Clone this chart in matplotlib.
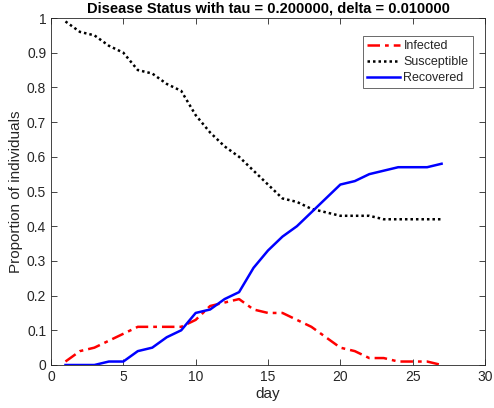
import matplotlib
matplotlib.use("Agg")
import matplotlib.pyplot as plt

days = list(range(1, 28))
infected = [0.01, 0.04, 0.05, 0.07, 0.09, 0.11, 0.11, 0.11, 0.11, 0.13, 0.17, 0.18, 0.19, 0.16,
            0.15, 0.15, 0.13, 0.11, 0.08, 0.05, 0.04, 0.02, 0.02, 0.01, 0.01, 0.01, 0.00]
susceptible = [0.99, 0.96, 0.95, 0.92, 0.90, 0.85, 0.84, 0.81, 0.79, 0.72, 0.67, 0.63, 0.60, 0.56,
               0.52, 0.48, 0.47, 0.45, 0.44, 0.43, 0.43, 0.43, 0.42, 0.42, 0.42, 0.42, 0.42]
recovered = [0.00, 0.00, 0.00, 0.01, 0.01, 0.04, 0.05, 0.08, 0.10, 0.15, 0.16, 0.19, 0.21, 0.28,
             0.33, 0.37, 0.40, 0.44, 0.48, 0.52, 0.53, 0.55, 0.56, 0.57, 0.57, 0.57, 0.58]

plt.rcParams['font.family'] = ['Liberation Sans', 'DejaVu Sans']

fig = plt.figure(figsize=(4.94, 4.08), dpi=100)
ax = fig.add_axes([51/494, 1 - 365/408, (485-51)/494, (365-18)/408])

ax.plot(days, infected, color='red', linestyle=(0, (5, 2, 1.5, 2)), linewidth=1.8, label='Infected')
ax.plot(days, susceptible, color='black', linestyle=(0, (1, 1.2)), linewidth=1.8, label='Susceptible')
ax.plot(days, recovered, color='blue', linestyle='-', linewidth=1.8, label='Recovered')

ax.set_xlim(0, 30)
ax.set_ylim(0, 1)
ax.set_xticks([0, 5, 10, 15, 20, 25, 30])
ax.set_yticks([0, 0.1, 0.2, 0.3, 0.4, 0.5, 0.6, 0.7, 0.8, 0.9, 1])
ax.set_yticklabels(['0', '0.1', '0.2', '0.3', '0.4', '0.5', '0.6', '0.7', '0.8', '0.9', '1'])
ax.tick_params(direction='in', top=True, right=True, labelsize=10, length=4, width=0.6,
               color='#262626', labelcolor='#262626')
for s in ax.spines.values():
    s.set_linewidth(0.6)
    s.set_color('#262626')

ax.set_xlabel('day', fontsize=11, labelpad=2, color='#262626')
ax.set_ylabel('Proportion of individuals', fontsize=11, labelpad=3, color='#262626')
ax.set_title('Disease Status with tau = 0.200000, delta = 0.010000', fontsize=10.5, fontweight='bold', pad=4)

leg = ax.legend(loc='upper right', bbox_to_anchor=(0.972, 0.948), fontsize=9, frameon=True, fancybox=False,
                edgecolor='#262626', handlelength=2.6, handletextpad=0.3, borderpad=0.35, labelspacing=0.3,
                borderaxespad=0)
leg.get_frame().set_linewidth(0.6)
for t in leg.get_texts():
    t.set_color('#262626')

fig.savefig('out.png', dpi=100)
